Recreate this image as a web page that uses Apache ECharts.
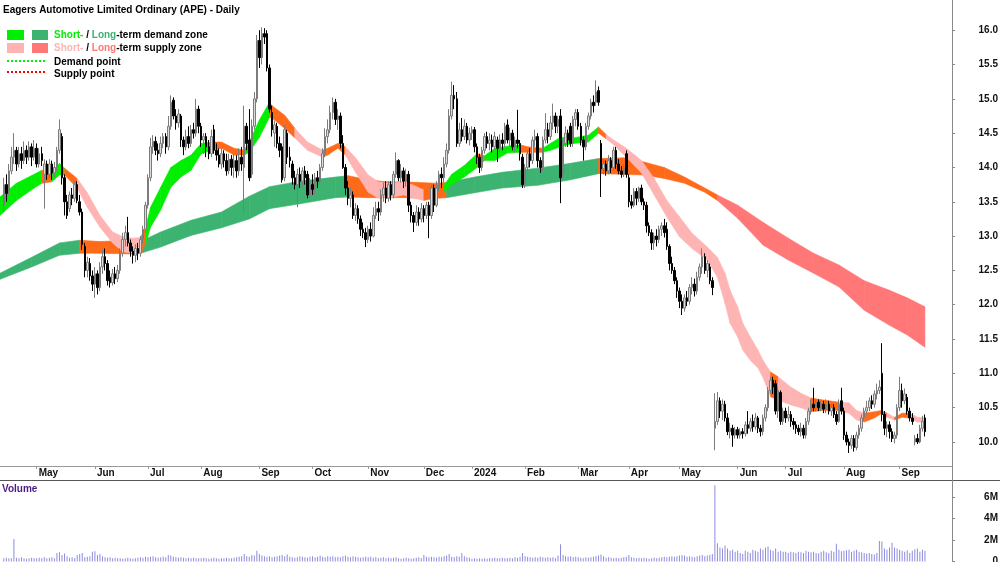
<!DOCTYPE html>
<html>
<head>
<meta charset="utf-8">
<script src="https://cdn.jsdelivr.net/npm/echarts@6.0.0/dist/echarts.min.js"></script>
<style>
  html, body { margin: 0; padding: 0; background: #fff; }
  #main { width: 1000px; height: 562px; }
</style>
</head>
<body>
<div id="main"></div>
<script>
// ---- data -------------------------------------------------------------
// one row per trading day: [open, close, low, high]  (index 0 = 11 Apr 2023)
const candles = [
  // Apr 2023
  [13.45,13.75,13.35,13.85],[13.75,13.62,13.5,13.9],[13.65,13.95,13.6,14.05],[13.95,14.15,13.9,14.3],
  [14.15,14.25,14.05,14.5],[14.25,14.05,13.95,14.3],[14.05,14.2,14.0,14.3],[14.2,14.1,13.98,14.3],
  [14.1,14.25,14.05,14.38],[14.25,14.15,14.05,14.32],[14.15,14.3,14.1,14.38],[14.3,14.15,14.02,14.35],
  [14.15,14.28,14.1,14.4],
  // May
  [14.28,14.05,14.0,14.35],[14.05,14.2,14.0,14.28],[14.2,14.1,14.02,14.3],[13.9,14.05,13.4,14.12],
  [14.05,13.9,13.82,14.1],[13.9,14.05,13.85,14.12],[14.05,13.92,13.82,14.1],[13.92,14.0,13.85,14.08],
  [14.0,14.25,13.95,14.3],[14.25,14.55,14.2,14.7],[14.45,13.85,13.75,14.5],[13.85,13.5,13.3,13.9],
  [13.5,13.3,13.25,13.6],[13.4,13.6,13.35,13.65],[13.6,13.55,13.45,13.7],[13.55,13.75,13.5,13.8],
  [13.75,13.52,13.48,13.8],[13.5,13.35,13.3,13.6],[13.35,12.88,12.8,13.4],[12.85,12.5,12.4,12.9],
  [12.5,12.62,12.4,12.7],[12.6,12.42,12.35,12.68],[12.42,12.3,12.2,12.5],
  // Jun
  [12.3,12.45,12.1,12.55],[12.45,12.25,12.15,12.5],[12.25,12.55,12.2,12.62],[12.55,12.7,12.45,12.8],
  [12.7,12.6,12.5,12.82],[12.6,12.35,12.28,12.65],[12.4,12.32,12.25,12.5],[12.32,12.45,12.28,12.52],
  [12.45,12.38,12.3,12.55],[12.38,12.5,12.33,12.58],[12.5,12.75,12.45,12.82],[12.75,12.95,12.7,13.05],
  [12.95,13.05,12.85,13.15],[13.05,12.9,12.85,13.28],[12.9,12.78,12.7,12.95],[12.78,12.72,12.6,12.85],
  [12.72,12.82,12.62,12.88],[12.82,12.75,12.65,12.9],[12.75,12.95,12.7,13.0],[12.95,13.1,12.9,13.15],
  [13.1,13.45,13.05,13.5],
  // Jul
  [13.45,13.85,13.4,13.9],[13.85,14.3,13.8,14.43],[14.3,14.38,14.2,14.47],[14.38,14.25,14.18,14.45],
  [14.25,14.2,14.1,14.35],[14.2,14.35,14.15,14.45],[14.35,14.45,14.28,14.5],[14.45,14.3,14.2,14.5],
  [14.3,14.6,14.25,14.75],[14.6,14.95,14.55,15.05],[14.98,14.75,14.7,15.02],[14.75,14.65,14.55,14.85],
  [14.65,14.78,14.58,14.85],[14.75,14.4,14.3,14.78],[14.4,14.3,14.18,14.45],[14.3,14.45,14.25,14.55],
  [14.45,14.35,14.28,14.6],[14.35,14.55,14.3,14.62],[14.55,14.5,14.42,14.65],[14.5,14.85,14.45,15.0],
  [14.85,14.6,14.5,14.9],
  // Aug
  [14.6,14.4,14.3,14.65],[14.4,14.45,14.2,14.5],[14.45,14.3,14.15,14.5],[14.3,14.2,14.12,14.4],
  [14.2,14.45,14.15,14.55],[14.55,14.25,14.2,14.62],[14.25,14.18,14.1,14.35],[14.18,14.05,14.0,14.28],
  [14.05,14.2,13.98,14.28],[14.2,14.1,14.0,14.25],[14.1,13.95,13.88,14.2],[13.95,14.12,13.9,14.2],
  [14.12,14.0,13.88,14.18],[14.0,14.1,13.85,14.2],[14.1,13.95,13.85,14.18],[13.95,14.15,13.88,14.28],
  [14.15,14.05,13.95,14.3],[14.0,14.6,13.35,14.9],[14.6,14.35,14.25,14.65],[14.4,13.85,13.8,14.85],
  [13.9,14.6,13.85,14.7],[14.6,15.0,14.55,15.1],[15.0,15.85,14.95,15.93],
  // Sep
  [15.85,15.6,15.45,16.0],[15.6,15.95,15.5,16.04],[15.95,15.9,15.8,16.03],[15.95,15.45,15.4,16.0],
  [15.45,14.85,14.8,15.5],[14.8,14.55,14.45,14.9],[14.5,14.62,14.3,14.68],[14.6,14.35,14.28,14.65],
  [14.35,14.25,14.15,14.45],[14.3,13.82,13.78,14.35],[13.85,14.55,13.8,14.62],[14.5,14.15,14.05,14.55],
  [14.15,14.1,14.0,14.3],[14.05,13.85,13.75,14.1],[13.85,13.75,13.68,13.95],[13.75,13.9,13.42,13.98],
  [13.9,13.8,13.7,14.0],[13.8,13.95,13.72,14.0],[13.95,13.85,13.75,14.02],[13.9,13.6,13.55,13.95],
  [13.6,13.75,13.55,13.85],
  // Oct
  [13.75,13.68,13.6,13.9],[13.68,13.85,13.6,13.92],[13.85,13.8,13.7,13.95],[13.8,14.0,13.75,14.05],
  [14.0,14.2,13.95,14.28],[14.2,14.45,14.15,14.57],[14.45,14.55,14.35,14.7],[14.55,14.8,14.5,14.9],
  [14.8,14.95,14.7,15.02],[14.95,14.7,14.62,15.0],[14.7,14.75,14.55,14.85],[14.75,14.35,14.28,14.8],
  [14.35,14.0,13.98,14.47],[14.0,13.7,13.6,14.05],[13.7,13.55,13.45,13.8],[13.55,13.6,13.42,13.7],
  [13.6,13.3,13.25,13.65],[13.3,13.4,13.22,13.48],[13.4,13.25,13.18,13.45],[13.25,13.1,13.0,13.3],
  [13.1,13.05,12.97,13.2],[13.05,12.95,12.84,13.12],
  // Nov
  [12.95,13.1,12.9,13.15],[13.1,13.0,12.92,13.2],[13.0,13.3,12.98,13.42],[13.3,13.4,13.25,13.5],
  [13.4,13.35,13.22,13.5],[13.35,13.6,13.3,13.68],[13.6,13.7,13.5,13.78],[13.7,13.55,13.48,13.8],
  [13.55,13.75,13.5,13.8],[13.75,13.6,13.52,13.8],[13.6,13.9,13.55,13.95],[13.9,14.1,13.85,14.22],
  [14.1,13.85,13.8,14.12],[13.85,13.95,13.78,14.05],[13.95,13.8,13.7,14.0],[13.8,13.9,13.72,13.98],
  [13.9,13.45,13.35,13.95],[13.45,13.3,13.2,13.5],[13.3,13.2,13.06,13.35],[13.2,13.35,13.15,13.45],
  [13.35,13.25,13.15,13.42],[13.25,13.4,13.2,13.48],
  // Dec
  [13.4,13.3,13.2,13.45],[13.3,13.45,13.25,13.5],[13.45,13.3,12.97,13.5],[13.3,13.7,13.25,13.75],
  [13.7,13.45,13.35,13.75],[13.45,13.7,13.42,13.8],[13.7,13.9,13.65,13.95],[13.9,13.85,13.7,14.0],
  [13.85,14.05,13.78,14.15],[14.05,14.25,14.0,14.35],[14.25,14.75,14.2,14.85],[14.75,15.05,14.7,15.25],
  [15.05,15.0,14.85,15.2],[15.0,14.35,14.3,15.1],[14.35,14.55,14.3,14.65],[14.55,14.45,14.38,14.72],
  [14.45,14.6,14.4,14.7],[14.6,14.4,14.35,14.65],[14.4,14.5,14.32,14.58],
  // Jan 2024
  [14.5,14.55,14.4,14.6],[14.55,14.3,14.22,14.59],[14.3,14.15,14.05,14.35],[14.15,14.0,13.92,14.2],
  [14.0,14.25,13.95,14.3],[14.25,14.45,14.2,14.5],[14.45,14.35,14.28,14.52],[14.35,14.4,14.25,14.5],
  [14.4,14.3,14.22,14.48],[14.3,14.45,14.25,14.52],[14.4,14.28,14.08,14.45],[14.28,14.4,14.2,14.48],
  [14.4,14.35,14.25,14.5],[14.35,14.6,14.3,14.65],[14.62,14.4,14.35,14.7],[14.4,14.5,14.3,14.58],
  [14.5,14.3,14.25,14.55],[14.3,14.4,14.22,14.45],[14.4,14.35,14.28,14.84],[14.35,14.2,14.1,14.4],
  [14.15,13.75,13.7,14.2],
  // Feb
  [13.75,14.0,13.7,14.05],[14.0,14.2,13.95,14.25],[14.2,14.1,14.0,14.28],[14.1,14.4,14.05,14.45],
  [14.4,14.45,14.3,14.55],[14.45,14.1,14.0,14.5],[14.1,14.0,13.92,14.15],[14.0,14.4,13.95,14.45],
  [14.4,14.55,14.35,14.79],[14.55,14.45,14.35,14.65],[14.45,14.65,14.4,14.75],[14.65,14.75,14.55,14.93],
  [14.75,14.6,14.5,14.8],[14.6,14.7,14.5,14.75],[14.75,13.85,13.48,14.85],[13.9,14.35,13.85,14.4],
  [14.35,14.5,14.3,14.6],[14.5,14.4,14.3,14.55],[14.6,14.35,14.3,14.65],[14.35,14.7,14.3,14.75],
  [14.7,14.8,14.6,14.85],
  // Mar
  [14.8,14.6,14.55,14.85],[14.6,14.4,14.32,14.65],[14.4,14.3,14.1,14.45],[14.3,14.6,14.25,14.65],
  [14.6,14.75,14.55,14.8],[14.75,14.95,14.7,15.0],[14.95,14.9,14.8,15.05],[14.95,15.1,14.9,15.27],
  [15.12,14.95,14.9,15.18],[14.35,13.98,13.57,14.4],[13.98,14.05,13.9,14.12],[14.05,13.95,13.88,14.1],
  [13.95,14.1,13.9,14.18],[14.1,14.0,13.92,14.15],[14.0,14.25,13.95,14.3],[14.25,14.05,13.98,14.3],
  [14.05,13.95,13.9,14.12],[13.95,13.9,13.85,14.02],[13.9,14.0,13.86,14.05],[14.2,13.9,13.85,14.25],
  // Apr
  [13.85,13.5,13.42,13.9],[13.5,13.45,13.4,13.6],[13.45,13.65,13.42,13.7],[13.65,13.55,13.45,13.7],
  [13.55,13.7,13.5,13.72],[13.7,13.5,13.45,13.75],[13.5,13.45,13.38,13.55],[13.45,13.15,13.05,13.5],
  [13.15,13.05,13.0,13.2],[13.05,12.9,12.8,13.1],[12.9,13.0,12.8,13.05],[13.0,12.95,12.85,13.1],
  [12.95,13.1,12.9,13.15],[13.1,13.15,13.0,13.2],[13.15,13.05,12.98,13.25],[13.1,12.85,12.8,13.2],
  [12.85,12.6,12.5,12.88],[12.6,12.5,12.45,12.7],[12.5,12.35,12.3,12.55],[12.35,12.2,12.1,12.4],
  // May
  [12.2,12.05,11.95,12.25],[12.05,11.95,11.85,12.15],[11.95,12.1,11.9,12.15],[12.1,12.05,11.98,12.2],
  [12.05,12.25,12.0,12.3],[12.25,12.3,12.15,12.4],[12.3,12.2,12.12,12.38],[12.2,12.4,12.15,12.48],
  [12.4,12.55,12.35,12.6],[12.55,12.7,12.45,12.82],[12.7,12.5,12.45,12.75],[12.5,12.6,12.4,12.65],
  [12.55,12.35,12.3,12.6],[12.35,12.25,12.14,12.4],[10.2,10.3,9.88,10.71],[10.3,10.6,10.25,10.73],
  [10.6,10.45,10.35,10.65],[10.45,10.55,10.32,10.62],[10.55,10.35,10.3,10.6],[10.35,10.15,10.1,10.42],
  [10.15,10.2,10.05,10.28],[10.2,10.1,9.93,10.25],[10.1,10.18,10.05,10.22],
  // Jun
  [10.18,10.1,10.05,10.22],[10.1,10.15,10.05,10.2],[10.15,10.12,10.05,10.2],[10.12,10.25,10.08,10.3],
  [10.25,10.2,10.12,10.45],[10.2,10.3,10.15,10.35],[10.3,10.22,10.15,10.4],[10.22,10.35,10.18,10.42],
  [10.35,10.2,10.13,10.38],[10.2,10.15,10.08,10.25],[10.15,10.35,10.1,10.4],[10.35,10.5,10.3,10.55],
  [10.5,10.75,10.45,10.8],[10.75,10.9,10.7,10.95],[10.9,10.8,10.7,10.95],[10.85,10.45,10.4,10.9],
  [10.45,10.75,10.35,10.8],[10.72,10.3,10.25,10.75],[10.3,10.45,10.25,10.5],
  // Jul
  [10.45,10.35,10.28,10.5],[10.35,10.4,10.3,10.52],[10.4,10.3,10.22,10.45],[10.3,10.25,10.18,10.35],
  [10.25,10.2,10.12,10.3],[10.2,10.15,10.1,10.25],[10.15,10.2,10.08,10.28],[10.2,10.1,10.05,10.25],
  [10.1,10.3,10.05,10.35],[10.3,10.45,10.25,10.5],[10.45,10.55,10.4,10.62],[10.55,10.5,10.45,10.79],
  [10.5,10.58,10.45,10.62],[10.58,10.5,10.45,10.62],[10.5,10.55,10.45,10.6],[10.55,10.48,10.42,10.6],
  [10.48,10.55,10.42,10.62],[10.55,10.45,10.4,10.6],[10.45,10.5,10.38,10.55],[10.5,10.4,10.35,10.55],
  [10.4,10.3,10.25,10.45],[10.3,10.55,10.28,10.62],[10.6,10.45,10.4,10.79],
  // Aug
  [10.45,10.1,10.03,10.5],[10.1,10.0,9.95,10.15],[10.0,9.95,9.84,10.05],[9.95,10.05,9.9,10.1],
  [10.05,9.92,9.86,10.1],[9.92,10.1,9.88,10.15],[10.1,10.2,10.05,10.25],[10.2,10.35,10.15,10.4],
  [10.35,10.45,10.3,10.5],[10.45,10.5,10.4,10.6],[10.5,10.6,10.45,10.65],[10.6,10.55,10.48,10.68],
  [10.55,10.7,10.5,10.75],[10.7,10.75,10.62,10.85],[10.75,10.8,10.7,10.9],[11.0,10.4,10.3,11.44],
  [10.4,10.2,10.1,10.45],[10.2,10.25,10.07,10.3],[10.25,10.15,10.05,10.3],[10.15,10.05,10.0,10.2],
  [10.05,10.1,9.98,10.15],[10.1,10.5,10.05,10.55],
  // Sep
  [10.5,10.75,10.45,10.95],[10.75,10.6,10.5,10.85],[10.6,10.7,10.55,10.78],[10.65,10.45,10.4,10.7],
  [10.45,10.35,10.3,10.5],[10.35,10.3,10.25,10.42],[10.0,10.05,9.95,10.1],[10.05,10.0,9.97,10.12],
  [10.0,10.2,9.98,10.25],[10.2,10.3,10.15,10.38],[10.35,10.15,10.08,10.4]
];

// daily volume, millions of shares
const volumes = [
  0.3,0.35,0.3,0.3,2.1,0.35,0.3,0.4,0.3,0.25,0.3,0.35,0.3,
  0.3,0.35,0.3,0.4,0.3,0.35,0.4,0.3,0.8,0.85,0.6,0.75,0.5,0.35,0.4,0.3,0.6,0.7,0.8,0.4,0.45,0.5,0.9,
  0.95,0.6,0.7,0.5,0.4,0.35,0.4,0.3,0.35,0.3,0.3,0.25,0.3,0.35,0.3,0.25,0.3,0.35,0.4,0.35,0.45,
  0.4,0.45,0.5,0.4,0.35,0.4,0.45,0.4,0.6,0.55,0.45,0.4,0.35,0.4,0.35,0.3,0.35,0.3,0.35,0.3,0.3,
  0.3,0.35,0.3,0.25,0.3,0.35,0.3,0.25,0.3,0.3,0.35,0.3,0.3,0.35,0.4,0.45,0.5,0.7,0.5,0.45,0.6,0.55,1.0,
  0.7,0.55,0.5,0.45,0.5,0.4,0.45,0.5,0.55,0.6,0.5,0.65,0.45,0.4,0.35,0.4,0.5,0.45,0.4,0.35,0.45,
  0.5,0.4,0.45,0.55,0.45,0.4,0.5,0.45,0.5,0.4,0.45,0.4,0.5,0.55,0.45,0.4,0.5,0.45,0.4,0.35,0.4,0.45,
  0.4,0.45,0.35,0.4,0.3,0.35,0.4,0.3,0.35,0.3,0.35,0.4,0.3,0.25,0.3,0.35,0.3,0.25,0.3,0.35,0.4,0.3,
  0.6,0.45,0.4,0.45,0.4,0.35,0.45,0.4,0.5,0.55,0.7,0.45,0.4,0.5,0.45,0.8,0.5,0.4,0.35,
  0.25,0.3,0.25,0.3,0.25,0.3,0.25,0.3,0.3,0.35,0.3,0.3,0.35,0.3,0.3,0.35,0.3,0.4,0.35,0.45,0.8,
  0.5,0.45,0.4,0.35,0.4,0.35,0.45,0.4,0.35,0.4,0.35,0.4,0.3,0.55,1.6,0.6,0.5,0.45,0.5,0.4,0.45,
  0.4,0.35,0.3,0.4,0.35,0.4,0.45,0.5,0.55,0.65,0.5,0.35,0.4,0.35,0.3,0.35,0.3,0.35,0.4,0.45,
  0.6,0.4,0.35,0.3,0.35,0.3,0.35,0.3,0.25,0.3,0.35,0.3,0.35,0.4,0.45,0.4,0.45,0.5,0.45,0.5,
  0.55,0.6,0.55,0.45,0.5,0.45,0.4,0.5,0.55,0.6,0.5,0.55,0.6,0.7,7.1,1.7,1.3,1.2,1.5,1.2,1.0,1.1,0.9,
  1.0,0.8,0.7,1.0,0.9,0.8,1.1,1.0,0.9,1.2,1.1,1.3,1.4,1.1,1.0,1.2,0.9,1.0,0.9,
  0.9,0.8,0.9,0.85,0.8,0.9,0.85,0.8,1.0,0.9,0.85,0.9,0.8,0.75,0.9,1.0,0.85,0.8,1.0,0.9,1.65,1.1,0.95,
  1.0,1.05,1.1,0.9,1.0,1.1,0.9,0.85,0.8,0.75,0.8,0.7,0.65,0.8,1.9,1.85,1.2,1.1,1.3,1.75,1.3,1.2,
  1.1,1.0,0.9,1.05,0.8,1.0,1.15,1.2,0.9,1.1,1.0
];

// zone bands read at sample days: [day, upper, lower, state]  D = demand, N = neutral, S = supply
const shortZone = [
  [-1.5,13.57,13.3,'D'],[5,13.77,13.52,'D'],[12,13.9,13.7,'D'],[15,13.96,13.77,'N'],[19,13.93,13.79,'D'],
  [22,14.06,13.89,'D'],[24,13.99,13.89,'N'],[29,13.84,13.7,'S'],[33,13.63,13.42,'S'],[38,13.3,13.13,'S'],
  [43,13.06,12.9,'S'],[47,12.99,12.77,'S'],[51,12.97,12.75,'S'],[54,12.98,12.8,'N'],[56,13.12,12.87,'D'],
  [58,13.42,13.13,'D'],[62,13.71,13.38,'D'],[66,14.0,13.71,'D'],[70,14.1,13.86,'D'],[74,14.18,13.96,'D'],
  [78,14.35,14.2,'D'],[82,14.37,14.25,'N'],[86,14.37,14.28,'N'],[91,14.28,14.18,'N'],[95,14.25,14.18,'D'],
  [97,14.37,14.22,'D'],[101,14.69,14.44,'D'],[105,14.95,14.73,'N'],[106,14.9,14.72,'N'],[111,14.76,14.57,'N'],
  [115,14.57,14.43,'S'],[120,14.37,14.25,'S'],[126,14.25,14.15,'N'],[128,14.28,14.18,'N'],[132,14.35,14.28,'N'],
  [135,14.3,14.18,'S'],[139,14.14,13.93,'S'],[144,13.89,13.64,'S'],[148,13.79,13.55,'S'],[152,13.77,13.56,'S'],
  [158,13.79,13.6,'S'],[162,13.74,13.55,'S'],[166,13.67,13.52,'N'],[170,13.7,13.55,'N'],[174,13.74,13.64,'D'],
  [177,13.9,13.75,'D'],[182,14.03,13.86,'D'],[187,14.2,14.0,'N'],[190,14.17,14.1,'D'],[194,14.28,14.1,'D'],
  [199,14.31,14.21,'D'],[204,14.33,14.22,'N'],[207,14.3,14.22,'N'],[213,14.28,14.22,'D'],[216,14.35,14.25,'D'],
  [220,14.44,14.3,'D'],[225,14.43,14.35,'D'],[231,14.47,14.37,'D'],[235,14.59,14.5,'N'],[238,14.48,14.42,'S'],
  [241,14.4,14.33,'S'],[246,14.28,14.15,'S'],[252,14.1,13.92,'S'],[257,13.84,13.6,'S'],[262,13.52,13.28,'S'],
  [267,13.28,12.99,'S'],[272,13.04,12.82,'S'],[278,12.84,12.65,'S'],[282,12.69,12.4,'S'],[285,12.46,12.02,'S'],
  [287,12.21,11.73,'S'],[290,11.97,11.53,'S'],[292,11.73,11.34,'S'],[295,11.53,11.19,'S'],[298,11.34,11.08,'S'],
  [300,11.19,10.94,'S'],[303,11.02,10.66,'N'],[306,10.95,10.61,'S'],[311,10.8,10.54,'S'],[315,10.71,10.5,'S'],
  [319,10.64,10.44,'N'],[324,10.61,10.46,'N'],[330,10.58,10.46,'S'],[334,10.57,10.42,'S'],[337,10.46,10.32,'S'],
  [340,10.42,10.29,'N'],[344,10.44,10.35,'N'],[347,10.46,10.42,'N'],[349,10.42,10.36,'S'],[352,10.36,10.32,'N'],
  [355,10.42,10.36,'N'],[358,10.42,10.35,'S'],[361,10.36,10.29,'S'],[364,10.35,10.29,'S']
];

const longZone = [
  [-1.5,12.46,12.37,'D'],[11,12.69,12.55,'D'],[22,12.9,12.72,'D'],[30,12.94,12.75,'N'],[38,12.92,12.75,'N'],
  [50,12.94,12.74,'N'],[55,12.94,12.76,'D'],[62,13.06,12.84,'D'],[74,13.23,13.01,'D'],[86,13.35,13.12,'D'],
  [97,13.58,13.25,'D'],[105,13.72,13.4,'D'],[117,13.8,13.47,'D'],[131,13.86,13.56,'D'],[136,13.88,13.57,'N'],
  [144,13.82,13.56,'N'],[151,13.79,13.56,'N'],[158,13.79,13.56,'N'],[171,13.77,13.55,'N'],[175,13.78,13.56,'D'],
  [186,13.86,13.63,'D'],[197,13.93,13.7,'D'],[211,13.99,13.74,'D'],[224,14.06,13.82,'D'],[235,14.13,13.91,'N'],
  [245,14.14,13.9,'N'],[253,14.08,13.89,'N'],[261,14.0,13.84,'N'],[269,13.86,13.77,'N'],[277,13.7,13.64,'N'],
  [282,13.6,13.52,'S'],[290,13.45,13.26,'S'],[300,13.2,12.87,'S'],[310,12.97,12.65,'S'],[320,12.75,12.46,'S'],
  [330,12.58,12.26,'S'],[340,12.35,11.92,'S'],[350,12.21,11.7,'S'],[357,12.1,11.56,'S'],[364,11.97,11.38,'S']
];

// axis ticks
const monthDays = [13, 36, 57, 78, 101, 122, 144, 166, 185, 206, 227, 247, 267, 290, 309, 332, 354];
const monthLabels = ['May','Jun','Jul','Aug','Sep','Oct','Nov','Dec','2024','Feb','Mar','Apr','May','Jun','Jul','Aug','Sep'];
const priceTicks = [10, 10.5, 11, 11.5, 12, 12.5, 13, 13.5, 14, 14.5, 15, 15.5, 16];
const volumeTicks = [0, 2, 4, 6];

// ---- chart ------------------------------------------------------------
const FONT = '"Liberation Sans", Arial, sans-serif';
const zoneColors = {
  short: { D: '#00ee00', N: '#ff6a1a', S: '#ffb4b4' },
  long:  { D: '#3cb371', N: '#ff6a1a', S: '#ff7777' }
};

function zoneSeries(rows, palette, z) {
  return {
    type: 'custom',
    xAxisIndex: 0,
    yAxisIndex: 0,
    z: z,
    silent: true,
    clip: true,
    data: rows.map(r => [r[0], r[1], r[2]]),
    encode: { x: 0, y: [1, 2] },
    renderItem: (params, api) => {
      const i = params.dataIndex;
      if (i >= rows.length - 1) return { type: 'group', children: [] };
      const a = rows[i], b = rows[i + 1];
      const col = palette[a[3]];
      return {
        type: 'polygon',
        shape: { points: [api.coord([a[0], a[1]]), api.coord([b[0], b[1]]), api.coord([b[0], b[2]]), api.coord([a[0], a[2]])] },
        style: { fill: col, stroke: col, lineWidth: 0.6 }
      };
    }
  };
}

const chart = echarts.init(document.getElementById('main'), null, { renderer: 'canvas' });

const axisLabelStyle = { fontFamily: FONT, fontWeight: 'bold', fontSize: 10, color: '#111' };

const option = {
  animation: false,
  backgroundColor: '#fff',
  grid: [
    { left: 0, right: 48, top: 0, height: 466, outerBoundsMode: 'none', containLabel: false },
    { left: 0, right: 48, top: 481, height: 80.5, outerBoundsMode: 'none', containLabel: false }
  ],
  xAxis: [
    {
      type: 'value', gridIndex: 0, min: -1.5, max: 374.7,
      axisLine: { show: true, onZero: false, lineStyle: { color: '#9a9a9a' } },
      axisTick: { show: true, customValues: monthDays, length: 3, lineStyle: { color: '#9a9a9a' } },
      axisLabel: Object.assign({
        customValues: monthDays,
        formatter: v => monthLabels[monthDays.indexOf(v)],
        align: 'left', margin: 2, padding: [0, 0, 0, 2]
      }, axisLabelStyle),
      splitLine: { show: false }
    },
    {
      type: 'value', gridIndex: 1, min: -1.5, max: 374.7,
      axisLine: { show: false, onZero: false }, axisTick: { show: false }, axisLabel: { show: false }, splitLine: { show: false }
    }
  ],
  yAxis: [
    {
      type: 'value', gridIndex: 0, position: 'right', min: 9.65, max: 16.44,
      axisLine: { show: false, onZero: false },
      axisTick: { show: true, customValues: priceTicks, length: 3, lineStyle: { color: '#888' } },
      axisLabel: Object.assign({
        customValues: priceTicks, formatter: v => v.toFixed(1), align: 'right', verticalAlign: 'middle', margin: 46
      }, axisLabelStyle),
      splitLine: { show: false }
    },
    {
      type: 'value', gridIndex: 1, position: 'right', min: 0, max: 7.49,
      axisLine: { show: false, onZero: false },
      axisTick: { show: true, customValues: volumeTicks, length: 3, lineStyle: { color: '#888' } },
      axisLabel: Object.assign({
        customValues: volumeTicks, formatter: v => (v ? v + 'M' : '0'), align: 'right', verticalAlign: 'middle', margin: 46
      }, axisLabelStyle),
      splitLine: { show: false }
    }
  ],
  series: [
    zoneSeries(longZone, zoneColors.long, 1),
    zoneSeries(shortZone, zoneColors.short, 2),
    {
      type: 'candlestick',
      xAxisIndex: 0, yAxisIndex: 0, z: 5,
      data: candles.map((c, i) => [i].concat(c)),
      encode: { x: 0, y: [1, 2, 3, 4] },
      barWidth: 2,
      itemStyle: { color: '#dcdcdc', color0: '#000', borderColor: '#7c7c7c', borderColor0: '#000', borderWidth: 1 }
    },
    {
      type: 'bar',
      xAxisIndex: 1, yAxisIndex: 1,
      data: volumes.map((v, i) => [i, v]),
      barWidth: 1,
      itemStyle: { color: '#8c8ce0' }
    }
  ],
  graphic: [
    { type: 'line', shape: { x1: 0, y1: 480.5, x2: 1000, y2: 480.5 }, style: { stroke: '#555', lineWidth: 1 } },
    { type: 'line', shape: { x1: 952.5, y1: 0, x2: 952.5, y2: 562 }, style: { stroke: '#888', lineWidth: 1 } },
    { type: 'text', x: 3, y: 10, style: { text: 'Eagers Automotive Limited Ordinary (APE) - Daily', font: 'bold 10px ' + FONT, fill: '#000', verticalAlign: 'middle' } },
    { type: 'rect', shape: { x: 7, y: 30, width: 17, height: 10 }, style: { fill: zoneColors.short.D } },
    { type: 'rect', shape: { x: 32, y: 30, width: 16, height: 10 }, style: { fill: zoneColors.long.D } },
    { type: 'rect', shape: { x: 7, y: 43, width: 17, height: 10 }, style: { fill: zoneColors.short.S } },
    { type: 'rect', shape: { x: 32, y: 43, width: 16, height: 10 }, style: { fill: zoneColors.long.S } },
    {
      type: 'text', x: 54, y: 35,
      style: {
        text: '{a|Short-} / {b|Long}-term demand zone', font: 'bold 10px ' + FONT, fill: '#000', verticalAlign: 'middle',
        rich: { a: { fill: zoneColors.short.D, font: 'bold 10px ' + FONT }, b: { fill: zoneColors.long.D, font: 'bold 10px ' + FONT } }
      }
    },
    {
      type: 'text', x: 54, y: 48,
      style: {
        text: '{a|Short-} / {b|Long}-term supply zone', font: 'bold 10px ' + FONT, fill: '#000', verticalAlign: 'middle',
        rich: { a: { fill: zoneColors.short.S, font: 'bold 10px ' + FONT }, b: { fill: zoneColors.long.S, font: 'bold 10px ' + FONT } }
      }
    },
    { type: 'line', shape: { x1: 7, y1: 61, x2: 47, y2: 61 }, style: { stroke: '#00ee00', lineWidth: 2, lineDash: [2, 2] } },
    { type: 'text', x: 54, y: 62, style: { text: 'Demand point', font: 'bold 10px ' + FONT, fill: '#000', verticalAlign: 'middle' } },
    { type: 'line', shape: { x1: 7, y1: 72, x2: 47, y2: 72 }, style: { stroke: '#ff0000', lineWidth: 2, lineDash: [2, 2] } },
    { type: 'text', x: 54, y: 74, style: { text: 'Supply point', font: 'bold 10px ' + FONT, fill: '#000', verticalAlign: 'middle' } },
    { type: 'text', x: 2, y: 489, style: { text: 'Volume', font: 'bold 10px ' + FONT, fill: '#4b1a86', verticalAlign: 'middle' } }
  ]
};

chart.setOption(option);
</script>
</body>
</html>
